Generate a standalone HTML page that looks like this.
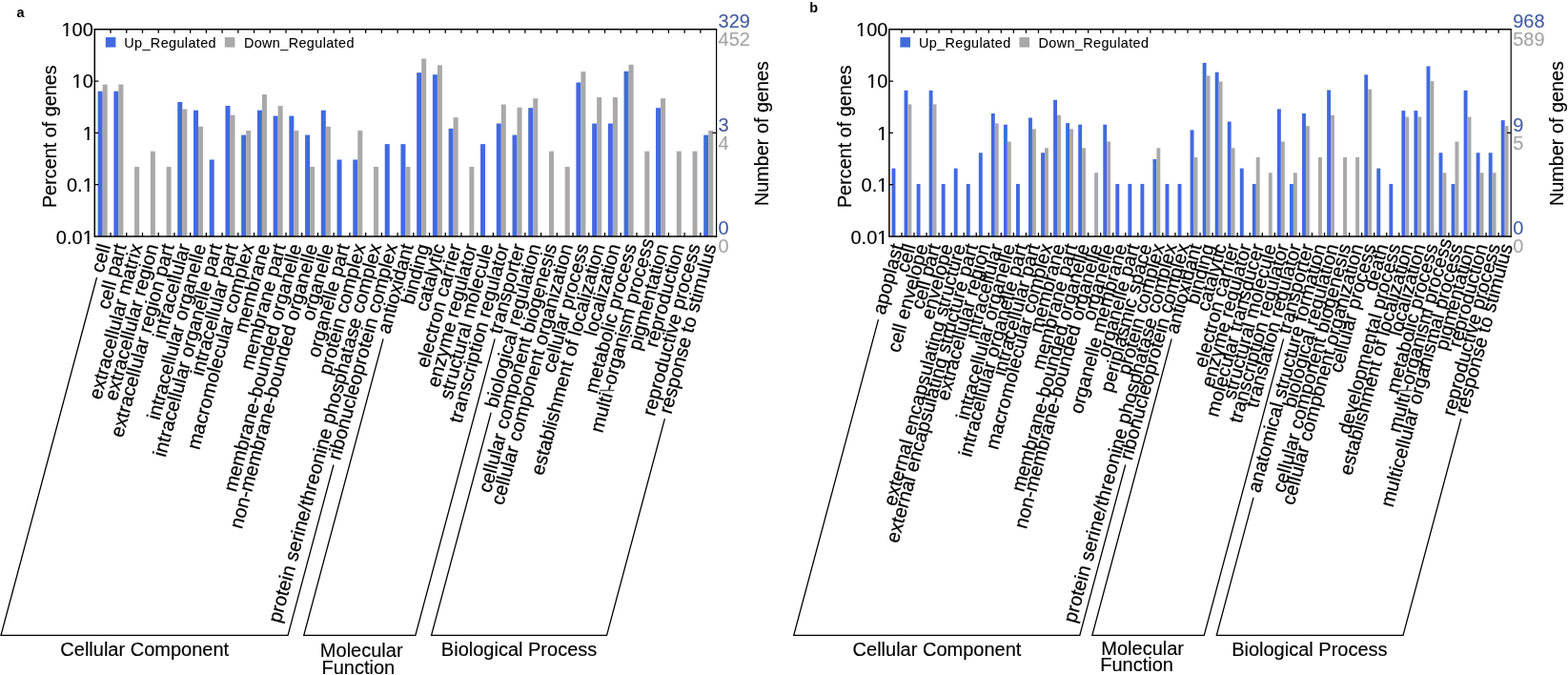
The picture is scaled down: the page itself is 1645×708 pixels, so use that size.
<!DOCTYPE html>
<html lang="en">
<head>
<meta charset="utf-8">
<title>GO classification of up- and down-regulated genes</title>
<style>
html,body{margin:0;padding:0;background:#fff;}
body{width:1645px;height:708px;overflow:hidden;}
svg{display:block;font-family:"Liberation Sans",Arial,Helvetica,sans-serif;fill:#000;}
text{stroke:#000;stroke-width:0.15px;}
text.xl{stroke-width:0.25px;}
text.tb{fill:#445ba0;stroke:#445ba0;stroke-width:0.1px;}
text.tg{fill:#a4a4a4;stroke:#a4a4a4;stroke-width:0.1px;}
tspan.bs{fill:#555;stroke:none;}
text.lg{stroke-width:0.1px;}
text.pl{stroke:none;}
</style>
</head>
<body>
<svg width="1645" height="708" viewBox="0 0 1645 708">
<rect width="1645" height="708" fill="#fff"/>
<g id="panel-a">
<rect x="102.65" y="95.69" width="5.02" height="152.31" fill="#4169e1"/>
<rect x="107.66" y="88.58" width="5.02" height="159.42" fill="#a9a9a9"/>
<rect x="119.37" y="95.69" width="5.02" height="152.31" fill="#4169e1"/>
<rect x="124.39" y="88.58" width="5.02" height="159.42" fill="#a9a9a9"/>
<rect x="141.11" y="174.97" width="5.02" height="73.03" fill="#a9a9a9"/>
<rect x="157.84" y="158.63" width="5.02" height="89.37" fill="#a9a9a9"/>
<rect x="174.57" y="174.97" width="5.02" height="73.03" fill="#a9a9a9"/>
<rect x="186.27" y="107" width="5.02" height="141" fill="#4169e1"/>
<rect x="191.29" y="114.49" width="5.02" height="133.51" fill="#a9a9a9"/>
<rect x="203" y="115.67" width="5.02" height="132.33" fill="#4169e1"/>
<rect x="208.02" y="132.72" width="5.02" height="115.28" fill="#a9a9a9"/>
<rect x="219.72" y="167.48" width="5.02" height="80.52" fill="#4169e1"/>
<rect x="236.45" y="110.94" width="5.02" height="137.06" fill="#4169e1"/>
<rect x="241.47" y="120.67" width="5.02" height="127.33" fill="#a9a9a9"/>
<rect x="253.18" y="141.58" width="5.02" height="106.42" fill="#4169e1"/>
<rect x="258.19" y="137.02" width="5.02" height="110.98" fill="#a9a9a9"/>
<rect x="269.9" y="115.67" width="5.02" height="132.33" fill="#4169e1"/>
<rect x="274.92" y="99.07" width="5.02" height="148.93" fill="#a9a9a9"/>
<rect x="286.63" y="121.59" width="5.02" height="126.41" fill="#4169e1"/>
<rect x="291.64" y="111.11" width="5.02" height="136.89" fill="#a9a9a9"/>
<rect x="303.35" y="121.59" width="5.02" height="126.41" fill="#4169e1"/>
<rect x="308.37" y="137.02" width="5.02" height="110.98" fill="#a9a9a9"/>
<rect x="320.08" y="141.58" width="5.02" height="106.42" fill="#4169e1"/>
<rect x="325.1" y="174.97" width="5.02" height="73.03" fill="#a9a9a9"/>
<rect x="336.8" y="115.67" width="5.02" height="132.33" fill="#4169e1"/>
<rect x="341.82" y="132.72" width="5.02" height="115.28" fill="#a9a9a9"/>
<rect x="353.53" y="167.48" width="5.02" height="80.52" fill="#4169e1"/>
<rect x="370.26" y="167.48" width="5.02" height="80.52" fill="#4169e1"/>
<rect x="375.27" y="137.02" width="5.02" height="110.98" fill="#a9a9a9"/>
<rect x="392" y="174.97" width="5.02" height="73.03" fill="#a9a9a9"/>
<rect x="403.71" y="151.14" width="5.02" height="96.86" fill="#4169e1"/>
<rect x="420.43" y="151.14" width="5.02" height="96.86" fill="#4169e1"/>
<rect x="425.45" y="174.97" width="5.02" height="73.03" fill="#a9a9a9"/>
<rect x="437.16" y="76.19" width="5.02" height="171.81" fill="#4169e1"/>
<rect x="442.18" y="61.49" width="5.02" height="186.51" fill="#a9a9a9"/>
<rect x="453.88" y="78.24" width="5.02" height="169.76" fill="#4169e1"/>
<rect x="458.9" y="68.34" width="5.02" height="179.66" fill="#a9a9a9"/>
<rect x="470.61" y="134.79" width="5.02" height="113.21" fill="#4169e1"/>
<rect x="475.63" y="123.16" width="5.02" height="124.84" fill="#a9a9a9"/>
<rect x="492.35" y="174.97" width="5.02" height="73.03" fill="#a9a9a9"/>
<rect x="504.06" y="151.14" width="5.02" height="96.86" fill="#4169e1"/>
<rect x="520.79" y="129.53" width="5.02" height="118.47" fill="#4169e1"/>
<rect x="525.8" y="109.59" width="5.02" height="138.41" fill="#a9a9a9"/>
<rect x="537.51" y="141.58" width="5.02" height="106.42" fill="#4169e1"/>
<rect x="542.53" y="112.74" width="5.02" height="135.26" fill="#a9a9a9"/>
<rect x="554.24" y="113.18" width="5.02" height="134.82" fill="#4169e1"/>
<rect x="559.26" y="103.18" width="5.02" height="144.82" fill="#a9a9a9"/>
<rect x="575.98" y="158.63" width="5.02" height="89.37" fill="#a9a9a9"/>
<rect x="592.71" y="174.97" width="5.02" height="73.03" fill="#a9a9a9"/>
<rect x="604.41" y="86.5" width="5.02" height="161.5" fill="#4169e1"/>
<rect x="609.43" y="75.12" width="5.02" height="172.88" fill="#a9a9a9"/>
<rect x="621.14" y="129.53" width="5.02" height="118.47" fill="#4169e1"/>
<rect x="626.16" y="102.08" width="5.02" height="145.92" fill="#a9a9a9"/>
<rect x="637.87" y="129.53" width="5.02" height="118.47" fill="#4169e1"/>
<rect x="642.88" y="102.08" width="5.02" height="145.92" fill="#a9a9a9"/>
<rect x="654.59" y="74.76" width="5.02" height="173.24" fill="#4169e1"/>
<rect x="659.61" y="67.83" width="5.02" height="180.17" fill="#a9a9a9"/>
<rect x="676.33" y="158.63" width="5.02" height="89.37" fill="#a9a9a9"/>
<rect x="688.04" y="113.18" width="5.02" height="134.82" fill="#4169e1"/>
<rect x="693.06" y="103.18" width="5.02" height="144.82" fill="#a9a9a9"/>
<rect x="709.79" y="158.63" width="5.02" height="89.37" fill="#a9a9a9"/>
<rect x="726.51" y="158.63" width="5.02" height="89.37" fill="#a9a9a9"/>
<rect x="738.22" y="141.58" width="5.02" height="106.42" fill="#4169e1"/>
<rect x="743.24" y="137.02" width="5.02" height="110.98" fill="#a9a9a9"/>
<path d="M116.03 30.8v4M116.03 248v-4M132.75 30.8v4M132.75 248v-4M149.48 30.8v4M149.48 248v-4M166.2 30.8v4M166.2 248v-4M182.93 30.8v4M182.93 248v-4M199.65 30.8v4M199.65 248v-4M216.38 30.8v4M216.38 248v-4M233.11 30.8v4M233.11 248v-4M249.83 30.8v4M249.83 248v-4M266.56 30.8v4M266.56 248v-4M283.28 30.8v4M283.28 248v-4M300.01 30.8v4M300.01 248v-4M316.73 30.8v4M316.73 248v-4M333.46 30.8v4M333.46 248v-4M350.18 30.8v4M350.18 248v-4M366.91 30.8v4M366.91 248v-4M383.64 30.8v4M383.64 248v-4M400.36 30.8v4M400.36 248v-4M417.09 30.8v4M417.09 248v-4M433.81 30.8v4M433.81 248v-4M450.54 30.8v4M450.54 248v-4M467.26 30.8v4M467.26 248v-4M483.99 30.8v4M483.99 248v-4M500.72 30.8v4M500.72 248v-4M517.44 30.8v4M517.44 248v-4M534.17 30.8v4M534.17 248v-4M550.89 30.8v4M550.89 248v-4M567.62 30.8v4M567.62 248v-4M584.34 30.8v4M584.34 248v-4M601.07 30.8v4M601.07 248v-4M617.79 30.8v4M617.79 248v-4M634.52 30.8v4M634.52 248v-4M651.25 30.8v4M651.25 248v-4M667.97 30.8v4M667.97 248v-4M684.7 30.8v4M684.7 248v-4M701.42 30.8v4M701.42 248v-4M718.15 30.8v4M718.15 248v-4M734.87 30.8v4M734.87 248v-4M99.3 85.1h4.1M99.3 139.4h4.1M99.3 193.7h4.1M751.6 139.4h-4.1" stroke="#000" stroke-width="1.3" fill="none"/>
<path d="M99.3 248.75V30.8H752.2" fill="none" stroke="#000" stroke-width="1.5"/>
<path d="M751.6 30.8V248.8" fill="none" stroke="#000" stroke-width="1.2"/>
<path d="M99.3 248H752.2" fill="none" stroke="#000" stroke-width="1.6"/>
<clipPath id="ca0"><rect x="47.8" y="16.05" width="17.53" height="28"/><rect x="65.33" y="16.05" width="10.22" height="19.4"/><rect x="69.28" y="35.05" width="2.1" height="4"/><rect x="75.55" y="16.05" width="24.25" height="28"/></clipPath>
<text x="97.8" y="38.05" text-anchor="end" font-size="20" clip-path="url(#ca0)">100</text>
<clipPath id="ca1"><rect x="47.8" y="70.4" width="28.65" height="28"/><rect x="76.45" y="70.4" width="10.22" height="19.4"/><rect x="80.4" y="89.4" width="2.1" height="4"/><rect x="86.68" y="70.4" width="13.12" height="28"/></clipPath>
<text x="97.8" y="92.4" text-anchor="end" font-size="20" clip-path="url(#ca1)">10</text>
<clipPath id="ca2"><rect x="47.8" y="125" width="39.78" height="28"/><rect x="87.58" y="125" width="10.22" height="19.4"/><rect x="91.53" y="144" width="2.1" height="4"/><rect x="97.8" y="125" width="2" height="28"/></clipPath>
<text x="97.8" y="147" text-anchor="end" font-size="20" clip-path="url(#ca2)">1</text>
<clipPath id="ca3"><rect x="47.8" y="179.15" width="39.78" height="28"/><rect x="87.58" y="179.15" width="10.22" height="19.4"/><rect x="91.53" y="198.15" width="2.1" height="4"/><rect x="97.8" y="179.15" width="2" height="28"/></clipPath>
<text x="97.8" y="201.15" text-anchor="end" font-size="20" clip-path="url(#ca3)">0.1</text>
<clipPath id="ca4"><rect x="47.8" y="234.3" width="39.78" height="28"/><rect x="87.58" y="234.3" width="10.22" height="19.4"/><rect x="91.53" y="253.3" width="2.1" height="4"/><rect x="97.8" y="234.3" width="2" height="28"/></clipPath>
<text x="97.8" y="256.3" text-anchor="end" font-size="20" clip-path="url(#ca4)">0.01</text>
<text transform="translate(58.9 218.1) rotate(-90)" font-size="20.5" textLength="149.8" lengthAdjust="spacingAndGlyphs">Percent of genes</text>
<text x="753.6" y="28.7" font-size="20" class="tb">329</text>
<text x="753.6" y="47.8" font-size="20" class="tg">452</text>
<text x="753.6" y="138" font-size="20" class="tb">3</text>
<text x="753.6" y="156.9" font-size="20" class="tg">4</text>
<text x="753.6" y="245.8" font-size="20" class="tb">0</text>
<text x="753.6" y="265" font-size="20" class="tg">0</text>
<text transform="translate(806.1 216) rotate(-90)" font-size="20.5" textLength="152" lengthAdjust="spacingAndGlyphs">Number of genes</text>
<rect x="110.8" y="39.1" width="10.6" height="10.5" fill="#4169e1"/>
<text x="130.3" y="49.9" class="lg" font-size="14.4" textLength="96.3" lengthAdjust="spacing">Up_Regulated</text>
<rect x="235.8" y="39.1" width="10.6" height="10.5" fill="#a9a9a9"/>
<text x="255.9" y="49.9" class="lg" font-size="14.4" textLength="115.5" lengthAdjust="spacing">Down_Regulated</text>
<text class="pl" x="17.5" y="18.3" font-size="14.5" font-weight="bold">a</text>
<text transform="translate(116.03 257.9) rotate(-75)" class="xl" text-anchor="end" font-size="20">cell</text>
<text transform="translate(132.76 257.9) rotate(-75)" class="xl" text-anchor="end" font-size="20">cell part</text>
<text transform="translate(149.48 257.9) rotate(-75)" class="xl" text-anchor="end" font-size="20">extracellular matrix</text>
<text transform="translate(166.21 257.9) rotate(-75)" class="xl" text-anchor="end" font-size="20">extracellular region</text>
<text transform="translate(182.94 257.9) rotate(-75)" class="xl" text-anchor="end" font-size="20">extracellular region part</text>
<text transform="translate(199.66 257.9) rotate(-75)" class="xl" text-anchor="end" font-size="20">intracellular</text>
<text transform="translate(216.39 257.9) rotate(-75)" class="xl" text-anchor="end" font-size="20">intracellular organelle</text>
<text transform="translate(233.11 257.9) rotate(-75)" class="xl" text-anchor="end" font-size="20">intracellular organelle part</text>
<text transform="translate(249.84 257.9) rotate(-75)" class="xl" text-anchor="end" font-size="20">intracellular part</text>
<text transform="translate(266.56 257.9) rotate(-75)" class="xl" text-anchor="end" font-size="20">macromolecular complex</text>
<text transform="translate(283.29 257.9) rotate(-75)" class="xl" text-anchor="end" font-size="20">membrane</text>
<text transform="translate(300.01 257.9) rotate(-75)" class="xl" text-anchor="end" font-size="20">membrane part</text>
<text transform="translate(316.74 257.9) rotate(-75)" class="xl" text-anchor="end" font-size="20">membrane-bounded organelle</text>
<text transform="translate(333.47 257.9) rotate(-75)" class="xl" text-anchor="end" font-size="20">non-membrane-bounded organelle</text>
<text transform="translate(350.19 257.9) rotate(-75)" class="xl" text-anchor="end" font-size="20">organelle</text>
<text transform="translate(366.92 257.9) rotate(-75)" class="xl" text-anchor="end" font-size="20">organelle part</text>
<text transform="translate(383.64 257.9) rotate(-75)" class="xl" text-anchor="end" font-size="20">protein complex</text>
<text transform="translate(400.37 257.9) rotate(-75)" class="xl" text-anchor="end" font-size="20">protein serine/threonine phosphatase complex</text>
<text transform="translate(417.09 257.9) rotate(-75)" class="xl" text-anchor="end" font-size="20">ribonucleoprotein complex</text>
<text transform="translate(433.82 257.9) rotate(-75)" class="xl" text-anchor="end" font-size="20">antioxidant</text>
<text transform="translate(450.55 257.9) rotate(-75)" class="xl" text-anchor="end" font-size="20">binding</text>
<text transform="translate(467.27 257.9) rotate(-75)" class="xl" text-anchor="end" font-size="20">catalytic</text>
<text transform="translate(484 257.9) rotate(-75)" class="xl" text-anchor="end" font-size="20">electron carrier</text>
<text transform="translate(500.72 257.9) rotate(-75)" class="xl" text-anchor="end" font-size="20">enzyme regulator</text>
<text transform="translate(517.45 257.9) rotate(-75)" class="xl" text-anchor="end" font-size="20">structural molecule</text>
<text transform="translate(534.17 257.9) rotate(-75)" class="xl" text-anchor="end" font-size="20">transcription regulator</text>
<text transform="translate(550.9 257.9) rotate(-75)" class="xl" text-anchor="end" font-size="20">transporter</text>
<text transform="translate(567.63 257.9) rotate(-75)" class="xl" text-anchor="end" font-size="20">biological regulation</text>
<text transform="translate(584.35 257.9) rotate(-75)" class="xl" text-anchor="end" font-size="20">cellular component biogenesis</text>
<text transform="translate(601.08 257.9) rotate(-75)" class="xl" text-anchor="end" font-size="20">cellular component organization</text>
<text transform="translate(617.8 257.9) rotate(-75)" class="xl" text-anchor="end" font-size="20">cellular process</text>
<text transform="translate(634.53 257.9) rotate(-75)" class="xl" text-anchor="end" font-size="20">establishment of localization</text>
<text transform="translate(651.25 257.9) rotate(-75)" class="xl" text-anchor="end" font-size="20">localization</text>
<text transform="translate(667.98 257.9) rotate(-75)" class="xl" text-anchor="end" font-size="20">metabolic process</text>
<text transform="translate(684.7 257.9) rotate(-75)" x="5.9" class="xl" text-anchor="end" font-size="20">multi<tspan class="bs">\</tspan><tspan dx="-2.6">-organism process</tspan></text>
<text transform="translate(701.43 257.9) rotate(-75)" class="xl" text-anchor="end" font-size="20">pigmentation</text>
<text transform="translate(718.16 257.9) rotate(-75)" class="xl" text-anchor="end" font-size="20">reproduction</text>
<text transform="translate(734.88 257.9) rotate(-75)" class="xl" text-anchor="end" font-size="20">reproductive process</text>
<text transform="translate(751.61 257.9) rotate(-75)" class="xl" text-anchor="end" font-size="20">response to stimulus</text>
<path d="M101.57 291L0.99 666.4H302.05L349.98 487.53" fill="none" stroke="#000" stroke-width="1.3" stroke-linejoin="miter"/>
<text x="151.72" y="687.6" text-anchor="middle" font-size="20">Cellular Component</text>
<path d="M402.09 355.45L318.77 666.4H435.85L519.18 355.43" fill="none" stroke="#000" stroke-width="1.3" stroke-linejoin="miter"/>
<text x="379.21" y="688.7" text-anchor="middle" font-size="20">Molecular</text>
<text x="375.81" y="706.5" text-anchor="middle" font-size="20">Function</text>
<path d="M515.18 432.78L452.58 666.4H636.56L697.44 439.18" fill="none" stroke="#000" stroke-width="1.3" stroke-linejoin="miter"/>
<text x="544.57" y="687.6" text-anchor="middle" font-size="20">Biological Process</text>
</g>
<g id="panel-b">
<rect x="935.51" y="176.59" width="3.91" height="71.41" fill="#4169e1"/>
<rect x="948.56" y="94.86" width="3.91" height="153.14" fill="#4169e1"/>
<rect x="952.47" y="109.42" width="3.91" height="138.58" fill="#a9a9a9"/>
<rect x="961.6" y="192.93" width="3.91" height="55.07" fill="#4169e1"/>
<rect x="974.65" y="94.86" width="3.91" height="153.14" fill="#4169e1"/>
<rect x="978.56" y="109.42" width="3.91" height="138.58" fill="#a9a9a9"/>
<rect x="987.69" y="192.93" width="3.91" height="55.07" fill="#4169e1"/>
<rect x="1000.74" y="176.59" width="3.91" height="71.41" fill="#4169e1"/>
<rect x="1013.79" y="192.93" width="3.91" height="55.07" fill="#4169e1"/>
<rect x="1026.83" y="160.24" width="3.91" height="87.76" fill="#4169e1"/>
<rect x="1039.88" y="118.99" width="3.91" height="129.01" fill="#4169e1"/>
<rect x="1043.79" y="129.4" width="3.91" height="118.6" fill="#a9a9a9"/>
<rect x="1052.92" y="130.7" width="3.91" height="117.3" fill="#4169e1"/>
<rect x="1056.84" y="148.53" width="3.91" height="99.47" fill="#a9a9a9"/>
<rect x="1065.97" y="192.93" width="3.91" height="55.07" fill="#4169e1"/>
<rect x="1079.02" y="123.5" width="3.91" height="124.5" fill="#4169e1"/>
<rect x="1082.93" y="135.33" width="3.91" height="112.67" fill="#a9a9a9"/>
<rect x="1092.06" y="160.24" width="3.91" height="87.76" fill="#4169e1"/>
<rect x="1095.97" y="155.31" width="3.91" height="92.69" fill="#a9a9a9"/>
<rect x="1105.11" y="104.79" width="3.91" height="143.21" fill="#4169e1"/>
<rect x="1109.02" y="120.73" width="3.91" height="127.27" fill="#a9a9a9"/>
<rect x="1118.15" y="129.07" width="3.91" height="118.93" fill="#4169e1"/>
<rect x="1122.07" y="135.33" width="3.91" height="112.67" fill="#a9a9a9"/>
<rect x="1131.2" y="130.7" width="3.91" height="117.3" fill="#4169e1"/>
<rect x="1135.11" y="155.31" width="3.91" height="92.69" fill="#a9a9a9"/>
<rect x="1148.16" y="181.22" width="3.91" height="66.78" fill="#a9a9a9"/>
<rect x="1157.29" y="130.7" width="3.91" height="117.3" fill="#4169e1"/>
<rect x="1161.2" y="148.53" width="3.91" height="99.47" fill="#a9a9a9"/>
<rect x="1170.34" y="192.93" width="3.91" height="55.07" fill="#4169e1"/>
<rect x="1183.38" y="192.93" width="3.91" height="55.07" fill="#4169e1"/>
<rect x="1196.43" y="192.93" width="3.91" height="55.07" fill="#4169e1"/>
<rect x="1209.48" y="167.03" width="3.91" height="80.97" fill="#4169e1"/>
<rect x="1213.39" y="155.31" width="3.91" height="92.69" fill="#a9a9a9"/>
<rect x="1222.52" y="192.93" width="3.91" height="55.07" fill="#4169e1"/>
<rect x="1235.57" y="192.93" width="3.91" height="55.07" fill="#4169e1"/>
<rect x="1248.61" y="136.39" width="3.91" height="111.61" fill="#4169e1"/>
<rect x="1252.53" y="164.87" width="3.91" height="83.13" fill="#a9a9a9"/>
<rect x="1261.66" y="65.95" width="3.91" height="182.05" fill="#4169e1"/>
<rect x="1265.57" y="79.4" width="3.91" height="168.6" fill="#a9a9a9"/>
<rect x="1274.71" y="75.73" width="3.91" height="172.27" fill="#4169e1"/>
<rect x="1278.62" y="85.46" width="3.91" height="162.54" fill="#a9a9a9"/>
<rect x="1287.75" y="127.55" width="3.91" height="120.45" fill="#4169e1"/>
<rect x="1291.66" y="155.31" width="3.91" height="92.69" fill="#a9a9a9"/>
<rect x="1300.8" y="176.59" width="3.91" height="71.41" fill="#4169e1"/>
<rect x="1313.84" y="192.93" width="3.91" height="55.07" fill="#4169e1"/>
<rect x="1317.76" y="164.87" width="3.91" height="83.13" fill="#a9a9a9"/>
<rect x="1330.8" y="181.22" width="3.91" height="66.78" fill="#a9a9a9"/>
<rect x="1339.94" y="114.35" width="3.91" height="133.65" fill="#4169e1"/>
<rect x="1343.85" y="148.53" width="3.91" height="99.47" fill="#a9a9a9"/>
<rect x="1352.98" y="192.93" width="3.91" height="55.07" fill="#4169e1"/>
<rect x="1356.89" y="181.22" width="3.91" height="66.78" fill="#a9a9a9"/>
<rect x="1366.03" y="118.99" width="3.91" height="129.01" fill="#4169e1"/>
<rect x="1369.94" y="132.18" width="3.91" height="115.82" fill="#a9a9a9"/>
<rect x="1382.99" y="164.87" width="3.91" height="83.13" fill="#a9a9a9"/>
<rect x="1392.12" y="94.49" width="3.91" height="153.51" fill="#4169e1"/>
<rect x="1396.03" y="120.73" width="3.91" height="127.27" fill="#a9a9a9"/>
<rect x="1409.08" y="164.87" width="3.91" height="83.13" fill="#a9a9a9"/>
<rect x="1422.12" y="164.87" width="3.91" height="83.13" fill="#a9a9a9"/>
<rect x="1431.26" y="78.33" width="3.91" height="169.67" fill="#4169e1"/>
<rect x="1435.17" y="93.64" width="3.91" height="154.36" fill="#a9a9a9"/>
<rect x="1444.3" y="176.59" width="3.91" height="71.41" fill="#4169e1"/>
<rect x="1457.35" y="192.93" width="3.91" height="55.07" fill="#4169e1"/>
<rect x="1470.4" y="116.1" width="3.91" height="131.9" fill="#4169e1"/>
<rect x="1474.31" y="122.62" width="3.91" height="125.38" fill="#a9a9a9"/>
<rect x="1483.44" y="116.1" width="3.91" height="131.9" fill="#4169e1"/>
<rect x="1487.36" y="122.62" width="3.91" height="125.38" fill="#a9a9a9"/>
<rect x="1496.49" y="69.45" width="3.91" height="178.55" fill="#4169e1"/>
<rect x="1500.4" y="85.06" width="3.91" height="162.94" fill="#a9a9a9"/>
<rect x="1509.53" y="160.24" width="3.91" height="87.76" fill="#4169e1"/>
<rect x="1513.45" y="181.22" width="3.91" height="66.78" fill="#a9a9a9"/>
<rect x="1522.58" y="192.93" width="3.91" height="55.07" fill="#4169e1"/>
<rect x="1526.49" y="148.53" width="3.91" height="99.47" fill="#a9a9a9"/>
<rect x="1535.63" y="94.86" width="3.91" height="153.14" fill="#4169e1"/>
<rect x="1539.54" y="122.62" width="3.91" height="125.38" fill="#a9a9a9"/>
<rect x="1548.67" y="160.24" width="3.91" height="87.76" fill="#4169e1"/>
<rect x="1552.59" y="181.22" width="3.91" height="66.78" fill="#a9a9a9"/>
<rect x="1561.72" y="160.24" width="3.91" height="87.76" fill="#4169e1"/>
<rect x="1565.63" y="181.22" width="3.91" height="66.78" fill="#a9a9a9"/>
<rect x="1574.76" y="126.12" width="3.91" height="121.88" fill="#4169e1"/>
<rect x="1578.68" y="132.18" width="3.91" height="115.82" fill="#a9a9a9"/>
<path d="M945.95 30.8v4M945.95 248v-4M958.99 30.8v4M958.99 248v-4M972.04 30.8v4M972.04 248v-4M985.08 30.8v4M985.08 248v-4M998.13 30.8v4M998.13 248v-4M1011.18 30.8v4M1011.18 248v-4M1024.22 30.8v4M1024.22 248v-4M1037.27 30.8v4M1037.27 248v-4M1050.31 30.8v4M1050.31 248v-4M1063.36 30.8v4M1063.36 248v-4M1076.41 30.8v4M1076.41 248v-4M1089.45 30.8v4M1089.45 248v-4M1102.5 30.8v4M1102.5 248v-4M1115.54 30.8v4M1115.54 248v-4M1128.59 30.8v4M1128.59 248v-4M1141.64 30.8v4M1141.64 248v-4M1154.68 30.8v4M1154.68 248v-4M1167.73 30.8v4M1167.73 248v-4M1180.77 30.8v4M1180.77 248v-4M1193.82 30.8v4M1193.82 248v-4M1206.87 30.8v4M1206.87 248v-4M1219.91 30.8v4M1219.91 248v-4M1232.96 30.8v4M1232.96 248v-4M1246 30.8v4M1246 248v-4M1259.05 30.8v4M1259.05 248v-4M1272.1 30.8v4M1272.1 248v-4M1285.14 30.8v4M1285.14 248v-4M1298.19 30.8v4M1298.19 248v-4M1311.23 30.8v4M1311.23 248v-4M1324.28 30.8v4M1324.28 248v-4M1337.33 30.8v4M1337.33 248v-4M1350.37 30.8v4M1350.37 248v-4M1363.42 30.8v4M1363.42 248v-4M1376.46 30.8v4M1376.46 248v-4M1389.51 30.8v4M1389.51 248v-4M1402.56 30.8v4M1402.56 248v-4M1415.6 30.8v4M1415.6 248v-4M1428.65 30.8v4M1428.65 248v-4M1441.69 30.8v4M1441.69 248v-4M1454.74 30.8v4M1454.74 248v-4M1467.79 30.8v4M1467.79 248v-4M1480.83 30.8v4M1480.83 248v-4M1493.88 30.8v4M1493.88 248v-4M1506.92 30.8v4M1506.92 248v-4M1519.97 30.8v4M1519.97 248v-4M1533.02 30.8v4M1533.02 248v-4M1546.06 30.8v4M1546.06 248v-4M1559.11 30.8v4M1559.11 248v-4M1572.15 30.8v4M1572.15 248v-4M932.9 85.1h4.1M932.9 139.4h4.1M932.9 193.7h4.1M1585.2 139.4h-4.1" stroke="#000" stroke-width="1.3" fill="none"/>
<path d="M932.9 248.75V30.8H1585.8" fill="none" stroke="#000" stroke-width="1.5"/>
<path d="M1585.2 30.8V248.8" fill="none" stroke="#000" stroke-width="1.2"/>
<path d="M932.9 248H1585.8" fill="none" stroke="#000" stroke-width="1.6"/>
<clipPath id="cb0"><rect x="881.4" y="16.05" width="17.53" height="28"/><rect x="898.93" y="16.05" width="10.22" height="19.4"/><rect x="902.88" y="35.05" width="2.1" height="4"/><rect x="909.15" y="16.05" width="24.25" height="28"/></clipPath>
<text x="931.4" y="38.05" text-anchor="end" font-size="20" clip-path="url(#cb0)">100</text>
<clipPath id="cb1"><rect x="881.4" y="70.4" width="28.65" height="28"/><rect x="910.05" y="70.4" width="10.22" height="19.4"/><rect x="914" y="89.4" width="2.1" height="4"/><rect x="920.28" y="70.4" width="13.12" height="28"/></clipPath>
<text x="931.4" y="92.4" text-anchor="end" font-size="20" clip-path="url(#cb1)">10</text>
<clipPath id="cb2"><rect x="881.4" y="125" width="39.78" height="28"/><rect x="921.18" y="125" width="10.22" height="19.4"/><rect x="925.13" y="144" width="2.1" height="4"/><rect x="931.4" y="125" width="2" height="28"/></clipPath>
<text x="931.4" y="147" text-anchor="end" font-size="20" clip-path="url(#cb2)">1</text>
<clipPath id="cb3"><rect x="881.4" y="179.15" width="39.78" height="28"/><rect x="921.18" y="179.15" width="10.22" height="19.4"/><rect x="925.13" y="198.15" width="2.1" height="4"/><rect x="931.4" y="179.15" width="2" height="28"/></clipPath>
<text x="931.4" y="201.15" text-anchor="end" font-size="20" clip-path="url(#cb3)">0.1</text>
<clipPath id="cb4"><rect x="881.4" y="234.3" width="39.78" height="28"/><rect x="921.18" y="234.3" width="10.22" height="19.4"/><rect x="925.13" y="253.3" width="2.1" height="4"/><rect x="931.4" y="234.3" width="2" height="28"/></clipPath>
<text x="931.4" y="256.3" text-anchor="end" font-size="20" clip-path="url(#cb4)">0.01</text>
<text transform="translate(892.5 218.1) rotate(-90)" font-size="20.5" textLength="149.8" lengthAdjust="spacingAndGlyphs">Percent of genes</text>
<text x="1587.2" y="28.7" font-size="20" class="tb">968</text>
<text x="1587.2" y="47.8" font-size="20" class="tg">589</text>
<text x="1587.2" y="138" font-size="20" class="tb">9</text>
<text x="1587.2" y="156.9" font-size="20" class="tg">5</text>
<text x="1587.2" y="245.8" font-size="20" class="tb">0</text>
<text x="1587.2" y="265" font-size="20" class="tg">0</text>
<text transform="translate(1639.7 216) rotate(-90)" font-size="20.5" textLength="152" lengthAdjust="spacingAndGlyphs">Number of genes</text>
<rect x="944.4" y="39.1" width="10.6" height="10.5" fill="#4169e1"/>
<text x="963.9" y="49.9" class="lg" font-size="14.4" textLength="96.3" lengthAdjust="spacing">Up_Regulated</text>
<rect x="1069.4" y="39.1" width="10.6" height="10.5" fill="#a9a9a9"/>
<text x="1089.5" y="49.9" class="lg" font-size="14.4" textLength="115.5" lengthAdjust="spacing">Down_Regulated</text>
<text class="pl" x="849.2" y="13.2" font-size="14.5" font-weight="bold">b</text>
<text transform="translate(947.79 257.9) rotate(-75)" class="xl" text-anchor="end" font-size="20">apoplast</text>
<text transform="translate(960.84 257.9) rotate(-75)" class="xl" text-anchor="end" font-size="20">cell</text>
<text transform="translate(973.88 257.9) rotate(-75)" class="xl" text-anchor="end" font-size="20">cell envelope</text>
<text transform="translate(986.93 257.9) rotate(-75)" class="xl" text-anchor="end" font-size="20">cell part</text>
<text transform="translate(999.98 257.9) rotate(-75)" class="xl" text-anchor="end" font-size="20">envelope</text>
<text transform="translate(1013.02 257.9) rotate(-75)" class="xl" text-anchor="end" font-size="20">external encapsulating structure</text>
<text transform="translate(1026.07 257.9) rotate(-75)" class="xl" text-anchor="end" font-size="20">external encapsulating structure part</text>
<text transform="translate(1039.11 257.9) rotate(-75)" class="xl" text-anchor="end" font-size="20">extracellular region</text>
<text transform="translate(1052.16 257.9) rotate(-75)" class="xl" text-anchor="end" font-size="20">intracellular</text>
<text transform="translate(1065.21 257.9) rotate(-75)" class="xl" text-anchor="end" font-size="20">intracellular organelle</text>
<text transform="translate(1078.25 257.9) rotate(-75)" class="xl" text-anchor="end" font-size="20">intracellular organelle part</text>
<text transform="translate(1091.3 257.9) rotate(-75)" class="xl" text-anchor="end" font-size="20">intracellular part</text>
<text transform="translate(1104.34 257.9) rotate(-75)" class="xl" text-anchor="end" font-size="20">macromolecular complex</text>
<text transform="translate(1117.39 257.9) rotate(-75)" class="xl" text-anchor="end" font-size="20">membrane</text>
<text transform="translate(1130.44 257.9) rotate(-75)" class="xl" text-anchor="end" font-size="20">membrane part</text>
<text transform="translate(1143.48 257.9) rotate(-75)" class="xl" text-anchor="end" font-size="20">membrane-bounded organelle</text>
<text transform="translate(1156.53 257.9) rotate(-75)" class="xl" text-anchor="end" font-size="20">non-membrane-bounded organelle</text>
<text transform="translate(1169.57 257.9) rotate(-75)" class="xl" text-anchor="end" font-size="20">organelle</text>
<text transform="translate(1182.62 257.9) rotate(-75)" class="xl" text-anchor="end" font-size="20">organelle membrane</text>
<text transform="translate(1195.67 257.9) rotate(-75)" class="xl" text-anchor="end" font-size="20">organelle part</text>
<text transform="translate(1208.71 257.9) rotate(-75)" class="xl" text-anchor="end" font-size="20">periplasmic space</text>
<text transform="translate(1221.76 257.9) rotate(-75)" class="xl" text-anchor="end" font-size="20">protein complex</text>
<text transform="translate(1234.8 257.9) rotate(-75)" class="xl" text-anchor="end" font-size="20">protein serine/threonine phosphatase complex</text>
<text transform="translate(1247.85 257.9) rotate(-75)" class="xl" text-anchor="end" font-size="20">ribonucleoprotein complex</text>
<text transform="translate(1260.9 257.9) rotate(-75)" class="xl" text-anchor="end" font-size="20">antioxidant</text>
<text transform="translate(1273.94 257.9) rotate(-75)" class="xl" text-anchor="end" font-size="20">binding</text>
<text transform="translate(1286.99 257.9) rotate(-75)" class="xl" text-anchor="end" font-size="20">catalytic</text>
<text transform="translate(1300.03 257.9) rotate(-75)" class="xl" text-anchor="end" font-size="20">electron carrier</text>
<text transform="translate(1313.08 257.9) rotate(-75)" class="xl" text-anchor="end" font-size="20">enzyme regulator</text>
<text transform="translate(1326.13 257.9) rotate(-75)" class="xl" text-anchor="end" font-size="20">molecular transducer</text>
<text transform="translate(1339.17 257.9) rotate(-75)" class="xl" text-anchor="end" font-size="20">structural molecule</text>
<text transform="translate(1352.22 257.9) rotate(-75)" class="xl" text-anchor="end" font-size="20">transcription regulator</text>
<text transform="translate(1365.26 257.9) rotate(-75)" class="xl" text-anchor="end" font-size="20">translation regulator</text>
<text transform="translate(1378.31 257.9) rotate(-75)" class="xl" text-anchor="end" font-size="20">transporter</text>
<text transform="translate(1391.36 257.9) rotate(-75)" class="xl" text-anchor="end" font-size="20">anatomical structure formation</text>
<text transform="translate(1404.4 257.9) rotate(-75)" class="xl" text-anchor="end" font-size="20">biological regulation</text>
<text transform="translate(1417.45 257.9) rotate(-75)" class="xl" text-anchor="end" font-size="20">cellular component biogenesis</text>
<text transform="translate(1430.49 257.9) rotate(-75)" class="xl" text-anchor="end" font-size="20">cellular component organization</text>
<text transform="translate(1443.54 257.9) rotate(-75)" class="xl" text-anchor="end" font-size="20">cellular process</text>
<text transform="translate(1456.59 257.9) rotate(-75)" class="xl" text-anchor="end" font-size="20">death</text>
<text transform="translate(1469.63 257.9) rotate(-75)" class="xl" text-anchor="end" font-size="20">developmental process</text>
<text transform="translate(1482.68 257.9) rotate(-75)" class="xl" text-anchor="end" font-size="20">establishment of localization</text>
<text transform="translate(1495.72 257.9) rotate(-75)" class="xl" text-anchor="end" font-size="20">localization</text>
<text transform="translate(1508.77 257.9) rotate(-75)" class="xl" text-anchor="end" font-size="20">metabolic process</text>
<text transform="translate(1521.82 257.9) rotate(-75)" x="5.9" class="xl" text-anchor="end" font-size="20">multi<tspan class="bs">\</tspan><tspan dx="-2.6">-organism process</tspan></text>
<text transform="translate(1534.86 257.9) rotate(-75)" class="xl" text-anchor="end" font-size="20">multicellular organismal process</text>
<text transform="translate(1547.91 257.9) rotate(-75)" class="xl" text-anchor="end" font-size="20">pigmentation</text>
<text transform="translate(1560.95 257.9) rotate(-75)" class="xl" text-anchor="end" font-size="20">reproduction</text>
<text transform="translate(1574 257.9) rotate(-75)" class="xl" text-anchor="end" font-size="20">reproductive process</text>
<text transform="translate(1587.05 257.9) rotate(-75)" class="xl" text-anchor="end" font-size="20">response to stimulus</text>
<path d="M921.53 335.05L832.75 666.4H1132.8L1180.73 487.53" fill="none" stroke="#000" stroke-width="1.3" stroke-linejoin="miter"/>
<text x="982.97" y="687.6" text-anchor="middle" font-size="20">Cellular Component</text>
<path d="M1229.17 355.45L1145.85 666.4H1263.26L1346.59 355.43" fill="none" stroke="#000" stroke-width="1.3" stroke-linejoin="miter"/>
<text x="1198.66" y="686.5" text-anchor="middle" font-size="20">Molecular</text>
<text x="1192.56" y="704.4" text-anchor="middle" font-size="20">Function</text>
<path d="M1315.04 521.85L1276.31 666.4H1472L1532.88 439.18" fill="none" stroke="#000" stroke-width="1.3" stroke-linejoin="miter"/>
<text x="1373.85" y="687.6" text-anchor="middle" font-size="20">Biological Process</text>
</g>
</svg>
</body>
</html>
